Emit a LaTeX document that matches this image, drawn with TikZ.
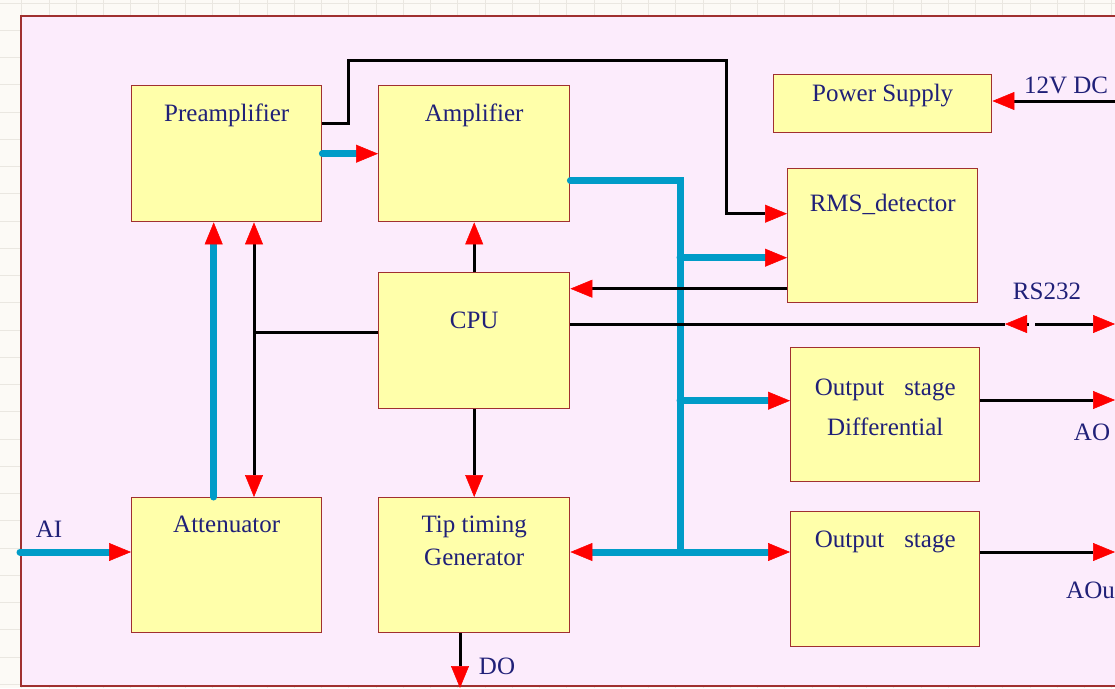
\documentclass[tikz,border=0pt]{standalone}
\usepackage{fontspec}
\setmainfont{Liberation Serif}
\usetikzlibrary{arrows.meta,calc}

\definecolor{paper}{RGB}{252,250,246}
\definecolor{gridgray}{RGB}{234,231,225}
\definecolor{panelpink}{RGB}{252,236,252}
\definecolor{boxyellow}{RGB}{255,255,170}
\definecolor{boxred}{RGB}{160,48,48}
\definecolor{busblue}{RGB}{0,156,200}
\definecolor{labelnavy}{RGB}{32,32,120}

\begin{document}
\begin{tikzpicture}[
		x=1pt,
		y=-1pt,
		>={Triangle[length=22pt,width=18pt,color=red,line width=0.5pt]},
		blk/.style={draw=boxred, fill=boxyellow, line width=1.4pt, anchor=north west, inner sep=0pt},
		txt/.style={text=labelnavy, font=\fontsize{25}{29}\selectfont, align=center, inner sep=0pt},
		bus/.style={draw=busblue, line width=7pt, line cap=round},
		sig/.style={draw=black, line width=3pt}
	]
	\useasboundingbox (0,0) rectangle (1115,688);

	% ---- sheet and panel --------------------------------------------
	\fill[paper] (0,0) rectangle (1115,688);
	\foreach \x in {21.75,49,...,1115} {
			\draw[gridgray, line width=0.8pt] (\x,0) -- (\x,688);
		}
	\foreach \y in {3,30.25,...,688} {
			\draw[gridgray, line width=0.8pt] (0,\y) -- (1115,\y);
		}
	\draw[boxred, line width=1.4pt, fill=panelpink] (21,16) rectangle (1130,686);

	% ---- blocks -----------------------------------------------------
	\node[blk, minimum width=190pt, minimum height=136pt] (pre) at (131,85) {};
	\node[blk, minimum width=191pt, minimum height=136pt] (amp) at (378,85) {};
	\node[blk, minimum width=218pt, minimum height=58pt] (ps) at (773,74) {};
	\node[blk, minimum width=190pt, minimum height=134pt] (rms) at (787,168) {};
	\node[blk, minimum width=191pt, minimum height=136pt] (cpu) at (378,272) {};
	\node[blk, minimum width=189pt, minimum height=134pt] (dif) at (790,347) {};
	\node[blk, minimum width=190pt, minimum height=135pt] (att) at (131,497) {};
	\node[blk, minimum width=191pt, minimum height=135pt] (tip) at (378,497) {};
	\node[blk, minimum width=189pt, minimum height=135pt] (out) at (790,511) {};

	\node[txt, anchor=base] (pre-t) at ([yshift=-36pt]pre.north) {Preamplifier};
	\node[txt, anchor=base] (amp-t) at ([yshift=-36pt]amp.north) {Amplifier};
	\node[txt, anchor=base] (ps-t) at ([yshift=-27pt]ps.north) {Power Supply};
	\node[txt, anchor=base] (rms-t) at ([yshift=-43pt]rms.north) {RMS\_detector};
	\node[txt, anchor=base] (cpu-t) at ([yshift=-56pt]cpu.north) {CPU};
	\node[txt, anchor=north] (dif-t) at ([yshift=-32pt]dif.north) {Output\hspace{0.8em}stage\\[11pt]Differential};
	\node[txt, anchor=base] (att-t) at ([yshift=-35pt]att.north) {Attenuator};
	\node[txt, anchor=north] (tip-t) at ([yshift=-19pt]tip.north) {Tip timing\\[4pt]Generator};
	\node[txt, anchor=base] (out-t) at ([yshift=-36pt]out.north) {Output\hspace{0.8em}stage};

	% ---- end points and junctions -----------------------------------
	\coordinate (jn) at (680,552);
	\coordinate (cj) at (254,332);
	\coordinate (ai) at (20,552);
	\coordinate (do) at (460,688);
	\coordinate (ao) at (1115,400);
	\coordinate (aout) at (1115,552);
	\coordinate (dc) at (1115,101);
	\coordinate (rs) at (1115,324);
	\coordinate (rsport) at (1005,324);
	\coordinate (rmsin) at ([yshift=-22pt]rms.west);
	\coordinate (rmsout) at ([yshift=-53pt]rms.west);
	\coordinate (difin) at ([yshift=14pt]dif.west);
	\coordinate (cpurs) at (cpu.east |- rsport);

	% ---- signal bus (blue) ------------------------------------------
	\draw[bus,->] (pre.east) -- (amp.west);
	\draw[bus] ([yshift=-27pt]amp.east) -| (jn);
	\draw[bus,<->] (tip.east |- jn) -- (out.west |- jn);
	\draw[bus,->] (jn |- rmsin) -- (rmsin);
	\draw[bus,->] (jn |- difin) -- (difin);
	\draw[bus,->] ([xshift=-13pt]att.north) -- ([xshift=-13pt]pre.south);
	\draw[bus,->] (ai) -- (att.west |- ai);

	% ---- control lines (black) --------------------------------------
	\draw[sig,->] ([yshift=30pt]pre.east) -- ++(26,0) |- (726,60) |- ([yshift=22pt]rms.west);
	\draw[sig,->] (rmsout) -- (rmsout -| cpu.east);
	\draw[sig] (cpurs) -- (rsport);
	\draw[sig,<-] (rsport) -- ++(24,0);
	\draw[sig,->] ([xshift=30pt]rsport) -- (rs);
	\draw[sig,->] (cpu.north) -- (amp.south);
	\draw[sig,->] (cpu.south) -- (tip.north);
	\draw[sig] (cpu.west |- cj) -- (cj);
	\draw[sig,<->] (pre.south -| cj) -- (att.north -| cj);
	\draw[sig,->] (tip.south -| do) -- (do);
	\draw[sig,->] (dif.east |- ao) -- (ao);
	\draw[sig,->] (out.east |- aout) -- (aout);
	\draw[sig,->] (dc) -- (ps.east |- dc);

	% ---- port labels ------------------------------------------------
	\node[txt, anchor=base] (ai-l) at (49,537) {AI};
	\node[txt, anchor=base] (do-l) at (497,674) {DO};
	\node[txt, anchor=base] (rs-l) at (1047,299) {RS232};
	\node[txt, anchor=base] (ao-l) at (1092,440) {AO};
	\node[txt, anchor=base west] (aout-l) at (1066,598) {AOu};
	\node[txt, anchor=base] (dc-l) at (1066,93) {12V DC};
\end{tikzpicture}
\end{document}
